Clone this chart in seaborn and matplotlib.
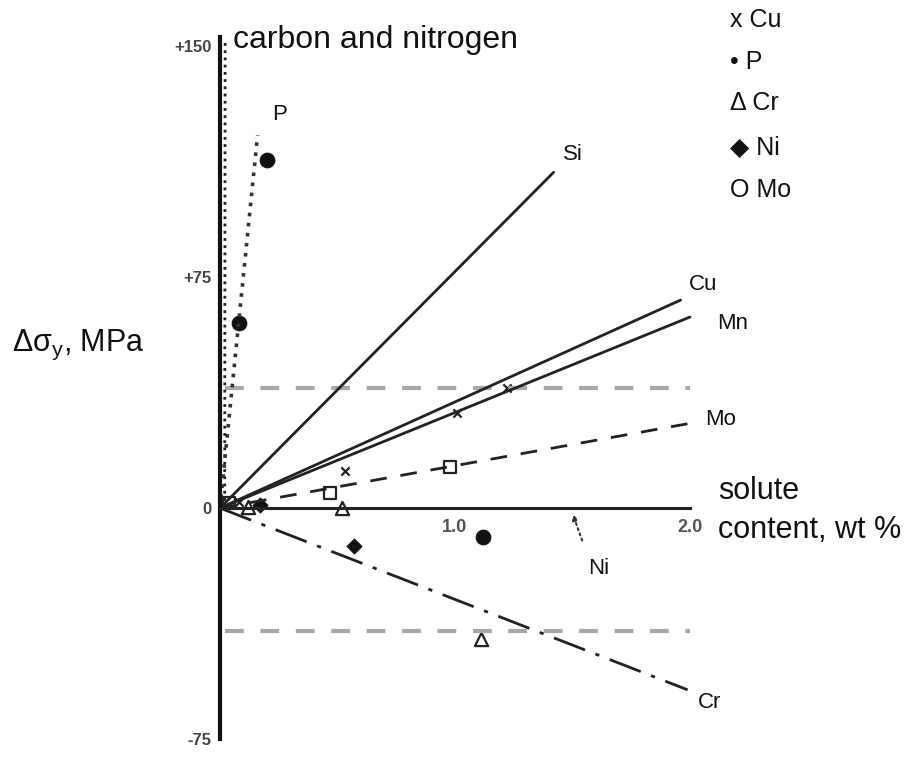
import numpy as np
import pandas as pd
import seaborn as sns
import matplotlib.pyplot as plt

sns.set_style("white")
plt.rcParams['font.family'] = ['Liberation Sans', 'DejaVu Sans']
plt.rcParams['mathtext.default'] = 'regular'

# Straight lines from the origin (end points)
line_names = ['carbon and nitrogen', 'P', 'Si', 'Cu', 'Mn', 'Mo', 'Cr']
line_x0 = [0.02, 0.0, 0.0, 0.0, 0.0, 0.0, 0.0]
line_y0 = [0, 0, 0, 0, 0, 0, 0]
line_x1 = [0.022, 0.16, 1.42, 1.96, 2.0, 2.0, 1.99]
line_y1 = [152, 121, 109, 67.5, 62, 27.5, -59]

# Scatter points per solute
cu_x = [0.08, 0.53, 1.01, 1.22]
cu_y = [2, 12, 31, 39]
p_x = [0.08, 0.20, 1.12]
p_y = [60, 113, -9.4]
cr_x = [0.12, 0.52, 1.11]
cr_y = [0.5, 0, -42.5]
ni_x = [0.17, 0.57]
ni_y = [1, -12.3]
mo_x = [0.04, 0.47, 0.98]
mo_y = [1.5, 5, 13.3]

# Horizontal grey reference lines
ref_levels = [39, -40]

df_lines = pd.DataFrame({
    'element': np.repeat(line_names, 2),
    'x': np.ravel(np.column_stack([line_x0, line_x1])),
    'y': np.ravel(np.column_stack([line_y0, line_y1])),
})

styles = {
    'carbon and nitrogen': dict(color='#222222', lw=2.0, ls=(0, (1, 1.6))),
    'P': dict(color='#333333', lw=2.6, ls=(0, (1, 1.8))),
    'Si': dict(color='#222222', lw=2.0, ls='-'),
    'Cu': dict(color='#222222', lw=2.0, ls='-'),
    'Mn': dict(color='#222222', lw=2.0, ls='-'),
    'Mo': dict(color='#222222', lw=2.0, ls=(0, (6, 5))),
    'Cr': dict(color='#222222', lw=2.0, ls=(0, (12, 4, 1.5, 4))),
}

fig = plt.figure(figsize=(9.09, 7.57), dpi=100)
ax = fig.add_axes([0, 0, 1, 1])

for lev in ref_levels:
    sns.lineplot(x=[0.02, 2.0], y=[lev, lev], ax=ax, color='#a8a8a8',
                 lw=3, linestyle=(0, (4.5, 4)))

for name in line_names:
    sub = df_lines[df_lines['element'] == name]
    st = styles[name]
    sns.lineplot(data=sub, x='x', y='y', ax=ax, color=st['color'],
                 lw=st['lw'], linestyle=st['ls'], sort=False)

# markers
sns.scatterplot(x=cu_x, y=cu_y, ax=ax, marker='x', color='#222222', s=35, linewidth=1.6)
sns.scatterplot(x=p_x, y=p_y, ax=ax, marker='o', color='#111111', s=110, edgecolor='#111111')
sns.scatterplot(x=cr_x, y=cr_y, ax=ax, marker='^', facecolor='white', edgecolor='#222222', s=90, linewidth=1.6)
sns.scatterplot(x=ni_x, y=ni_y, ax=ax, marker='D', color='#111111', s=60, edgecolor='#111111')
sns.scatterplot(x=mo_x, y=mo_y, ax=ax, marker='s', facecolor='white', edgecolor='#222222', s=70, linewidth=1.6)

# axes
ax.set_xlim(-0.936, 2.932)
ax.set_ylim(-80.8, 164.9)
for side in ['top', 'right']:
    ax.spines[side].set_visible(False)
ax.spines['left'].set_position(('data', 0))
ax.spines['left'].set_bounds(-75, 153)
ax.spines['left'].set_linewidth(3)
ax.spines['bottom'].set_position(('data', 0))
ax.spines['bottom'].set_bounds(0, 2.0)
ax.spines['bottom'].set_linewidth(2.2)
ax.spines['left'].set_color('#111111')
ax.spines['bottom'].set_color('#222222')

ax.set_yticks([-75, 0, 75, 150])
ax.set_yticklabels(['-75', '0', '+75', '+150'])
ax.set_xticks([1.0, 2.0])
ax.set_xticklabels(['1.0', '2.0'])
ax.tick_params(axis='y', direction='in', length=9, width=1.5, pad=6,
               labelsize=12, labelcolor='#444444', color='#333333')
ax.tick_params(axis='x', direction='in', length=13, width=2, pad=8,
               labelsize=13, labelcolor='#555555', color='#222222')
for lab in ax.get_xticklabels() + ax.get_yticklabels():
    lab.set_fontweight('bold')
ax.set_xlabel('')
ax.set_ylabel('')

# texts
ax.text(0.055, 152, 'carbon and nitrogen', fontsize=23, va='center', ha='left', color='#111111')
ax.text(-0.885, 52.9, 'Δσ$_y$, MPa', fontsize=22, va='center', ha='left', color='#111111')
ax.text(2.12, 5.5, 'solute', fontsize=22, va='center', ha='left', color='#111111')
ax.text(2.12, -7.2, 'content, wt %', fontsize=22, va='center', ha='left', color='#111111')

line_labels = ['P', 'Si', 'Cu', 'Mn', 'Mo', 'Cr', 'Ni']
label_x = [0.255, 1.50, 2.055, 2.18, 2.13, 2.085, 1.61]
label_y = [127.6, 114.6, 72.4, 60.0, 28.6, -63.0, -19.5]
for t, lx, ly in zip(line_labels, label_x, label_y):
    ax.text(lx, ly, t, fontsize=16, va='center', ha='center', color='#111111')

ax.annotate('', xy=(1.498, -1.2), xytext=(1.545, -11.4),
            arrowprops=dict(arrowstyle='-|>', linestyle=':', color='#333333',
                            lw=1.5, mutation_scale=8))

legend_text = ['x Cu', '• P', 'Δ Cr', '◆ Ni', 'O Mo']
legend_y = [158.4, 144.8, 131.5, 116.9, 103.2]
for t, ly in zip(legend_text, legend_y):
    ax.text(2.17, ly, t, fontsize=18, va='center', ha='left', color='#111111')

fig.savefig('out.png', dpi=100)
